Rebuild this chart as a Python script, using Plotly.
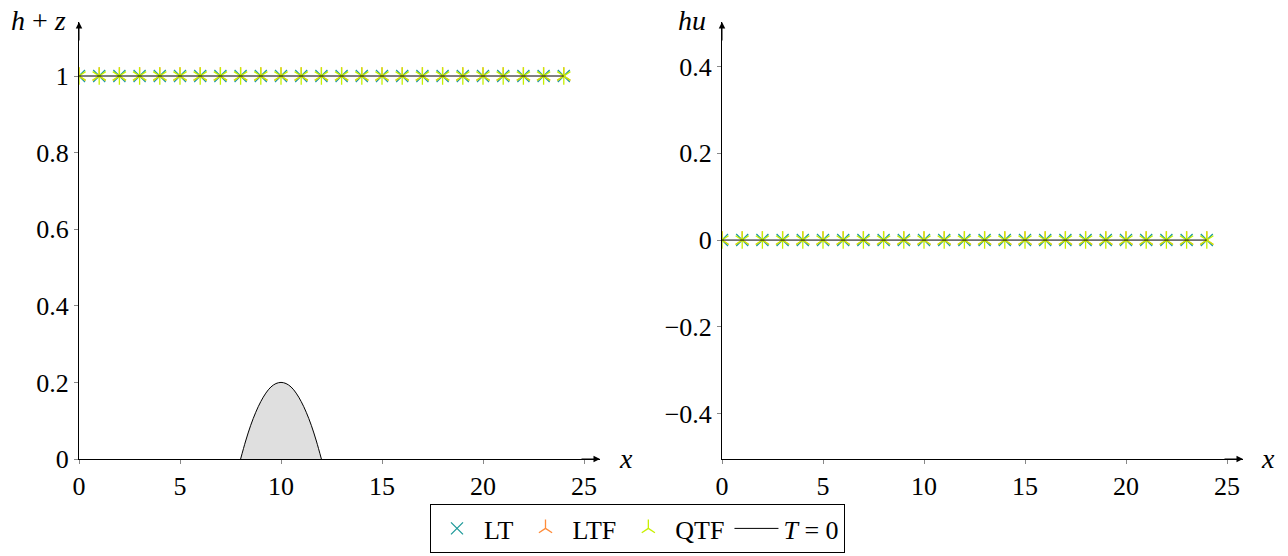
import plotly.graph_objects as go

# ---- data ----
x_cells = [0, 1, 2, 3, 4, 5, 6, 7, 8, 9, 10, 11, 12, 13, 14, 15, 16, 17, 18, 19, 20, 21, 22, 23, 24]
hz_LT = [1, 1, 1, 1, 1, 1, 1, 1, 1, 1, 1, 1, 1, 1, 1, 1, 1, 1, 1, 1, 1, 1, 1, 1, 1]
hz_LTF = [1, 1, 1, 1, 1, 1, 1, 1, 1, 1, 1, 1, 1, 1, 1, 1, 1, 1, 1, 1, 1, 1, 1, 1, 1]
hz_QTF = [1, 1, 1, 1, 1, 1, 1, 1, 1, 1, 1, 1, 1, 1, 1, 1, 1, 1, 1, 1, 1, 1, 1, 1, 1]
hz_T0 = [1, 1, 1, 1, 1, 1, 1, 1, 1, 1, 1, 1, 1, 1, 1, 1, 1, 1, 1, 1, 1, 1, 1, 1, 1]
hu_LT = [0, 0, 0, 0, 0, 0, 0, 0, 0, 0, 0, 0, 0, 0, 0, 0, 0, 0, 0, 0, 0, 0, 0, 0, 0]
hu_LTF = [0, 0, 0, 0, 0, 0, 0, 0, 0, 0, 0, 0, 0, 0, 0, 0, 0, 0, 0, 0, 0, 0, 0, 0, 0]
hu_QTF = [0, 0, 0, 0, 0, 0, 0, 0, 0, 0, 0, 0, 0, 0, 0, 0, 0, 0, 0, 0, 0, 0, 0, 0, 0]
hu_T0 = [0, 0, 0, 0, 0, 0, 0, 0, 0, 0, 0, 0, 0, 0, 0, 0, 0, 0, 0, 0, 0, 0, 0, 0, 0]
bump_x = [8.0, 8.25, 8.5, 8.75, 9.0, 9.25, 9.5, 9.75, 10.0, 10.25, 10.5, 10.75, 11.0, 11.25, 11.5, 11.75, 12.0]
bump_z = [0.0, 0.047, 0.088, 0.122, 0.15, 0.172, 0.188, 0.197, 0.2, 0.197, 0.188, 0.172, 0.15, 0.122, 0.088, 0.047, 0.0]
series_names = ["LT", "LTF", "QTF"]
x_ticks = [0, 5, 10, 15, 20, 25]
hz_ticks = [0, 0.2, 0.4, 0.6, 0.8, 1]
hu_ticks = [-0.4, -0.2, 0, 0.2, 0.4]

C_LT = "#1f9a9a"
C_LTF = "#ff8c3a"
C_QTF = "#c8f000"
FONT = "Liberation Serif"

W, H = 1288, 556
fig = go.Figure()

def add_panel(xa, ya, y_lt, y_ltf, y_qtf, y_t0, show):
    fig.add_trace(go.Scatter(x=x_cells, y=y_lt, mode="markers", name=series_names[0],
                             marker=dict(symbol="x-thin-open", size=12, color=C_LT, line=dict(width=1.3, color=C_LT)),
                             xaxis=xa, yaxis=ya, showlegend=show, legendgroup="LT"))
    fig.add_trace(go.Scatter(x=x_cells, y=y_ltf, mode="markers", name=series_names[1],
                             marker=dict(symbol="y-up-open", size=11, color=C_LTF, line=dict(width=1.3, color=C_LTF)),
                             xaxis=xa, yaxis=ya, showlegend=show, legendgroup="LTF"))
    fig.add_trace(go.Scatter(x=x_cells + x_cells, y=y_qtf + y_qtf, mode="markers", name=series_names[2],
                             marker=dict(symbol=["y-up-open"] * len(x_cells) + ["y-down-open"] * len(x_cells),
                                         size=11, color=C_QTF, line=dict(width=1.3, color=C_QTF)),
                             xaxis=xa, yaxis=ya, showlegend=show, legendgroup="QTF"))
    fig.add_trace(go.Scatter(x=x_cells, y=y_t0, mode="lines", name="<i>T</i> = 0",
                             line=dict(color="black", width=1),
                             xaxis=xa, yaxis=ya, showlegend=show, legendgroup="T0"))

# bump (topography)
fig.add_trace(go.Scatter(x=bump_x, y=bump_z, mode="lines", fill="tozeroy", fillcolor="#dfdfdf",
                         line=dict(color="black", width=1, shape="spline"), showlegend=False,
                         xaxis="x", yaxis="y"))
add_panel("x", "y", hz_LT, hz_LTF, hz_QTF, hz_T0, True)
add_panel("x2", "y2", hu_LT, hu_LTF, hu_QTF, hu_T0, False)

px = lambda p: p / W
py = lambda p: (H - p) / H

left_x0, left_x1 = 79, 600
right_x0, right_x1 = 722, 1243
y_top, y_bot = 22, 459
upx = 20.2
xr = (left_x1 - left_x0) / upx
yr_top = (y_bot - y_top) / 383

axis_common = dict(showgrid=False, zeroline=False, showline=True, linecolor="black", linewidth=1,
                   ticks="outside", ticklen=4, tickcolor="#888", tickwidth=1, automargin=False,
                   tickfont=dict(family=FONT, size=26, color="black"))

fig.update_layout(
    width=W, height=H, autosize=False,
    margin=dict(l=0, r=0, t=0, b=0, autoexpand=False),
    plot_bgcolor="white", paper_bgcolor="white",
    xaxis=dict(domain=[px(left_x0), px(left_x1)], range=[0, xr], tickvals=x_ticks, anchor="y", **axis_common),
    yaxis=dict(domain=[py(y_bot), py(y_top)], range=[0, yr_top], tickvals=hz_ticks, anchor="x", **axis_common),
    xaxis2=dict(domain=[px(right_x0), px(right_x1)], range=[0, (right_x1 - right_x0) / upx], tickvals=x_ticks, anchor="y2", **axis_common),
    yaxis2=dict(domain=[py(y_bot), py(y_top)], range=[-0.505, 0.503], tickvals=hu_ticks, anchor="x2", **axis_common),
    legend=dict(orientation="h", x=px(637.5), xanchor="center", y=py(553), yanchor="bottom",
                bordercolor="black", borderwidth=1, bgcolor="white",
                font=dict(family=FONT, size=26, color="black"), itemwidth=44, tracegroupgap=0),
    showlegend=True,
)

# arrows at axis ends
ann = []
for xa, ya, xend, ybase, ytop in [("x", "y", xr, 0, yr_top),
                                  ("x2", "y2", (right_x1 - right_x0) / upx, -0.505, 0.503)]:
    ann.append(dict(x=xend, y=ybase, xref=xa, yref=ya, ax=-20, ay=0, showarrow=True,
                    arrowhead=2, arrowsize=1.3, arrowwidth=1, arrowcolor="black", text=""))
    ann.append(dict(x=0, y=ytop, xref=xa, yref=ya, ax=0, ay=20, showarrow=True,
                    arrowhead=2, arrowsize=1.3, arrowwidth=1, arrowcolor="black", text=""))

lab_font = dict(family=FONT, size=28, color="black")
ann.append(dict(x=px(38), y=py(20), xref="paper", yref="paper", text="<i>h</i> + <i>z</i>",
                showarrow=False, font=lab_font, xanchor="center", yanchor="middle"))
ann.append(dict(x=px(692), y=py(20), xref="paper", yref="paper", text="<i>hu</i>",
                showarrow=False, font=lab_font, xanchor="center", yanchor="middle"))
ann.append(dict(x=px(626), y=py(458), xref="paper", yref="paper", text="<i>x</i>",
                showarrow=False, font=lab_font, xanchor="center", yanchor="middle"))
ann.append(dict(x=px(1268), y=py(458), xref="paper", yref="paper", text="<i>x</i>",
                showarrow=False, font=lab_font, xanchor="center", yanchor="middle"))
fig.update_layout(annotations=ann)

fig.write_html("out.html", config={"displayModeBar": False},
               post_script="document.body.style.margin='0';document.body.style.overflow='hidden';")
